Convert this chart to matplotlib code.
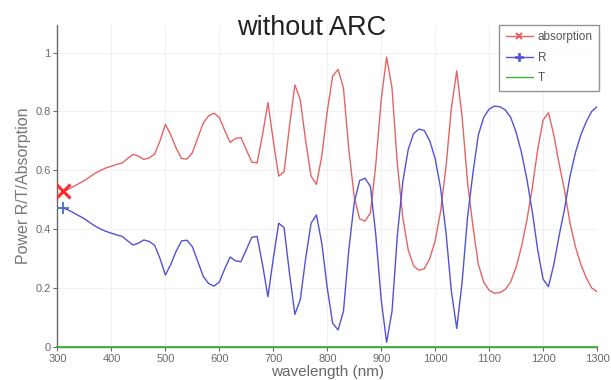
import matplotlib
matplotlib.use("Agg")
import matplotlib.pyplot as plt
from matplotlib.lines import Line2D
import numpy as np

plt.rcParams['font.family'] = ['Liberation Sans', 'DejaVu Sans']

wavelength = list(range(310, 1301, 10))

R = [0.472, 0.465, 0.455, 0.445, 0.435, 0.422, 0.410, 0.400, 0.392, 0.386,
     0.380, 0.375, 0.360, 0.346, 0.352, 0.363, 0.358, 0.345, 0.300, 0.244,
     0.280, 0.325, 0.360, 0.362, 0.340, 0.290, 0.240, 0.215, 0.206, 0.220,
     0.265, 0.305, 0.292, 0.289, 0.330, 0.372, 0.375, 0.280, 0.170, 0.300,
     0.420, 0.405, 0.250, 0.110, 0.160, 0.300, 0.420, 0.448, 0.350, 0.200,
     0.080, 0.057, 0.120, 0.330, 0.490, 0.565, 0.573, 0.545, 0.380, 0.160,
     0.015, 0.120, 0.380, 0.560, 0.670, 0.725, 0.740, 0.735, 0.700, 0.640,
     0.540, 0.390, 0.190, 0.062, 0.220, 0.440, 0.590, 0.720, 0.780, 0.808,
     0.818, 0.816, 0.805, 0.780, 0.730, 0.660, 0.570, 0.460, 0.330, 0.230,
     0.204, 0.280, 0.380, 0.470, 0.580, 0.660, 0.720, 0.765, 0.800, 0.816]

absorption = [0.528, 0.535, 0.545, 0.555, 0.565, 0.578, 0.590, 0.600, 0.608, 0.614,
              0.620, 0.625, 0.640, 0.654, 0.648, 0.637, 0.642, 0.655, 0.700, 0.756,
              0.720, 0.675, 0.640, 0.638, 0.660, 0.710, 0.760, 0.785, 0.794, 0.780,
              0.735, 0.695, 0.708, 0.711, 0.670, 0.628, 0.625, 0.720, 0.830, 0.700,
              0.580, 0.595, 0.750, 0.890, 0.840, 0.700, 0.580, 0.552, 0.650, 0.800,
              0.920, 0.943, 0.880, 0.670, 0.510, 0.435, 0.427, 0.455, 0.620, 0.840,
              0.985, 0.880, 0.620, 0.440, 0.330, 0.275, 0.260, 0.265, 0.300, 0.360,
              0.460, 0.610, 0.810, 0.938, 0.780, 0.560, 0.410, 0.280, 0.220, 0.192,
              0.182, 0.184, 0.195, 0.220, 0.270, 0.340, 0.430, 0.540, 0.670, 0.770,
              0.796, 0.720, 0.620, 0.530, 0.420, 0.340, 0.280, 0.235, 0.200, 0.187]

T_wavelength = [300, 1300]
T = [0.0, 0.0]

xticks = [300, 400, 500, 600, 700, 800, 900, 1000, 1100, 1200, 1300]
yticks = [0, 0.2, 0.4, 0.6, 0.8, 1]
ytick_labels = ['0', '0.2', '0.4', '0.6', '0.8', '1']

red = '#e46464'
blue = '#5252d6'
green = '#3cb43c'
gray = '#6a6a6a'

fig = plt.figure(figsize=(6.11, 3.80), dpi=100)
ax = fig.add_axes([0.0941, 0.0876, 0.8830, 0.8466])

ax.plot(wavelength, absorption, color=red, lw=1.0, zorder=3)
ax.plot(wavelength, R, color=blue, lw=1.0, zorder=3)
ax.plot(T_wavelength, T, color=green, lw=1.3, zorder=4, clip_on=False)
ax.plot(wavelength[:1], absorption[:1], 'x', color='#ff2a2a', ms=10, mew=2.2, zorder=5)
ax.plot(wavelength[:1], R[:1], '+', color='#4a6ad0', ms=8, mew=1.3, zorder=5)

ax.set_xlim(300, 1300)
ax.set_ylim(0, 1.094)
ax.set_xticks(xticks)
ax.set_yticks(yticks)
ax.set_yticklabels(ytick_labels)
ax.tick_params(axis='both', direction='out', length=3, width=0.8,
               colors=gray, labelsize=8, pad=2)
for s in ['top', 'right']:
    ax.spines[s].set_visible(False)
for s in ['left', 'bottom']:
    ax.spines[s].set_color(gray)
    ax.spines[s].set_linewidth(1.0)
ax.grid(True, color='#f1f1f4', lw=0.8)
ax.set_axisbelow(True)

ax.set_ylabel('Power R/T/Absorption', fontsize=11.5, color='#777777', labelpad=2)
ax.yaxis.set_label_coords(-0.049, 0.5)
ax.set_xlabel('wavelength (nm)', fontsize=11, color='#666666', labelpad=0)
ax.xaxis.set_label_coords(0.5, -0.058)

fig.text(0.510, 0.908, 'without ARC', fontsize=19.5, color='#222222',
         ha='center', va='baseline')

handles = [
    Line2D([], [], color=red, lw=1.0, marker='x', ms=5, mew=1.5, markevery=[0]),
    Line2D([], [], color=blue, lw=1.0, marker='P', ms=6, mew=0.5, markevery=[0]),
    Line2D([], [], color=green, lw=1.0),
]
leg = fig.legend(handles, ['absorption', 'R', 'T'], loc='upper right',
                 bbox_to_anchor=(599 / 611, 1 - 25 / 380), fontsize=8.5,
                 frameon=True, fancybox=False, handlelength=2.3,
                 handletextpad=0.4, borderpad=0.55, labelspacing=0.7,
                 borderaxespad=0)
leg.get_frame().set_edgecolor('#7a7a7a')
leg.get_frame().set_linewidth(1.0)
for t in leg.get_texts():
    t.set_color('#555555')

fig.savefig('out.png', dpi=100)
